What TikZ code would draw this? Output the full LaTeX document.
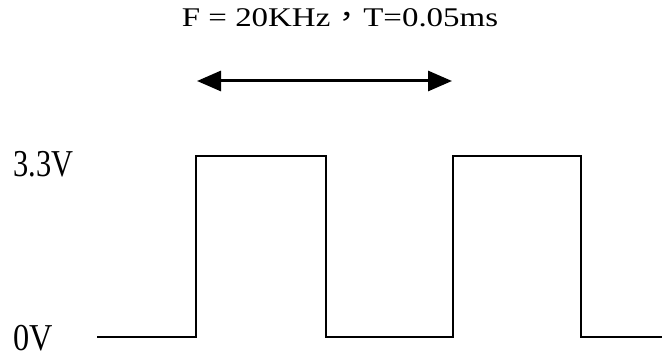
\documentclass[tikz,border=0pt]{standalone}
\usepackage{fontspec}
\setmainfont{Liberation Serif}
\newfontfamily\cjkfont{Noto Sans CJK TC}
\usetikzlibrary{arrows.meta}

\begin{document}
\begin{tikzpicture}[
    x=1pt, y=1pt,
    % Styles
    wave/.style={
        line width=1.6pt,
        draw=black
    },
    period/.style={
        {Triangle[length=24pt, width=20pt]}-{Triangle[length=24pt, width=20pt]},
        line width=3pt
    },
    level/.style={
        anchor=base west,
        inner sep=0pt,
        font=\fontsize{38}{38}\selectfont
    },
    caption/.style={
        anchor=base,
        inner sep=0pt,
        font=\fontsize{27}{27}\selectfont
    }
]

% Canvas
\useasboundingbox (0,0) rectangle (662,358);

% Frequency / period caption
\node[caption] (freq) at (340,331) {\scalebox{1.22}[1]{F = 20KHz{\cjkfont ，}T=0.05ms}};

% Period arrow
\coordinate (pstart) at (197,277);
\coordinate (pend) at (452,277);
\draw[period] (pstart) -- (pend);

% Voltage levels
\node[level] (high) at (13,181) {\scalebox{0.8}[1]{3.3V}};
\node[level] (low) at (13,7) {\scalebox{0.85}[1]{0V}};

% Square wave
\draw[wave] (97,21) -- (196,21) -- (196,202) -- (326,202) -- (326,21)
    -- (453,21) -- (453,202) -- (581,202) -- (581,21) -- (662,21);

\end{tikzpicture}
\end{document}
